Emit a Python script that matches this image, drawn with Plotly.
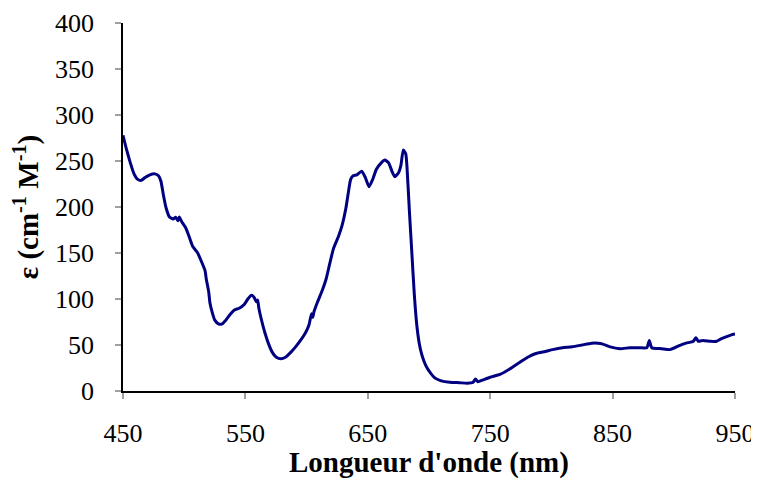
import plotly.graph_objects as go

wavelength = [450, 453, 456, 459, 462, 465, 468, 472, 476, 479, 481, 483, 485, 488, 491, 493, 495, 496, 498,
              501, 504, 507, 511, 514, 517, 518, 520, 521, 523, 525, 528, 531, 534, 538, 541, 545, 549, 552,
              555, 557, 559, 560, 561, 563, 566, 569, 572, 575, 579, 583, 587, 591, 595, 599, 602, 604, 605,
              606, 609, 613, 616, 619, 622, 626, 629, 632, 634, 636, 638, 641, 645, 648, 651, 654, 657, 661,
              664, 667, 670, 672, 675, 677, 679, 681, 682, 684, 686, 688, 690, 692, 694, 696, 698, 701, 705,
              710, 717, 725, 731, 736, 738, 740, 744, 750, 758, 766, 774, 781, 788, 795, 801, 809, 817, 825,
              833, 838, 842, 848, 856, 864, 872, 878, 880, 882, 890, 897, 904, 910, 916, 918, 920, 924, 930,
              935, 939, 943, 947, 950]
epsilon = [278, 262, 248, 236, 230, 229, 232, 235, 236, 234, 228, 213, 200, 189, 187, 189, 185, 189, 184,
           178, 168, 157, 150, 141, 131, 122, 108, 96, 85, 77, 73, 73, 77, 84, 88, 90, 94, 100,
           104, 102, 97, 99, 90, 78, 63, 51, 42, 37, 35, 37, 42, 48, 55, 63, 72, 84, 80,
           86, 97, 110, 122, 139, 155, 168, 180, 198, 215, 230, 234, 235, 239, 232, 222, 230, 241, 248,
           251, 248, 238, 233, 237, 245, 262, 258, 244, 195, 150, 105, 72, 52, 40, 32, 26, 20, 14,
           11, 9.5, 9, 8.5, 9.5, 13, 10, 12, 15, 18, 24, 31, 37, 41, 43, 45, 47, 48, 50,
           52, 52, 51, 48, 46, 47, 47, 47, 55, 47, 46, 45, 49, 52, 54, 58, 54, 55, 54,
           54, 57, 59, 61, 62]

x_ticks = [450, 550, 650, 750, 850, 950]
y_ticks = [0, 50, 100, 150, 200, 250, 300, 350, 400]

fig = go.Figure()
fig.add_trace(go.Scatter(x=wavelength, y=epsilon, mode="lines",
                         line=dict(color="#000080", width=3, shape="spline", smoothing=0.5)))

serif = "Liberation Serif, Times New Roman, serif"
police_ticks = dict(family=serif, size=26, color="black")
police_titre = dict(family=serif, size=29, color="black")

fig.update_layout(
    width=751, height=475,
    margin=dict(l=115, r=24, t=15, b=92),
    paper_bgcolor="white", plot_bgcolor="white",
    showlegend=False,
    font=police_ticks,
    xaxis=dict(range=[450, 950], tickvals=x_ticks, showgrid=False, zeroline=False,
               showline=True, linecolor="black", linewidth=1.5, automargin=False,
               ticks="outside", ticklen=6, tickcolor="#a0a0a0", tickwidth=1.5,
               ticklabelstandoff=12, tickfont=police_ticks),
    yaxis=dict(range=[0, 400], tickvals=y_ticks, showgrid=False, zeroline=False,
               showline=True, linecolor="black", linewidth=1.5, automargin=False,
               ticks="outside", ticklen=6, tickcolor="#a0a0a0", tickwidth=1.5,
               ticklabelstandoff=16, tickfont=police_ticks,
               title=dict(text="<b>ε (cm<sup>-1</sup> M<sup>-1</sup>)</b>", font=police_titre, standoff=18)),
)

fig.add_annotation(text="<b>Longueur d'onde (nm)</b>", xref="paper", yref="paper", x=0.5, y=0,
                   xanchor="center", yanchor="middle", yshift=-71, showarrow=False, font=police_titre)

fig.write_html("out.html")
